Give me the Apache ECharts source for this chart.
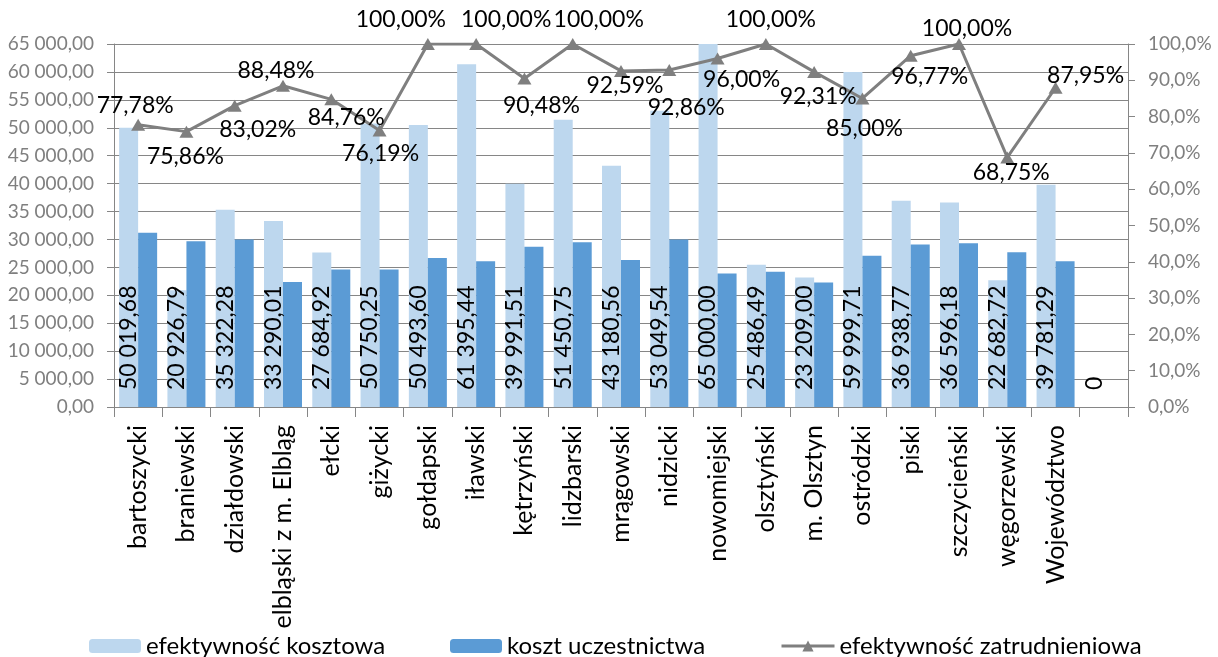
<!DOCTYPE html>
<html>
<head>
<meta charset="utf-8">
<script src="https://cdn.jsdelivr.net/npm/echarts@6/dist/echarts.min.js"></script>
<style>
html, body { margin: 0; padding: 0; background: #fff; }
#chart { width: 1218px; height: 657px; }
</style>
</head>
<body>
<div id="chart"></div>
<script>
// powiaty
var categories = ['bartoszycki', 'braniewski', 'działdowski', 'elbląski z m. Elbląg', 'ełcki', 'giżycki',
	'gołdapski', 'iławski', 'kętrzyński', 'lidzbarski', 'mrągowski', 'nidzicki', 'nowomiejski',
	'olsztyński', 'm. Olsztyn', 'ostródzki', 'piski', 'szczycieński', 'węgorzewski', 'Województwo', ''];

var efektywnoscKosztowa = [50019.68, 20926.79, 35322.28, 33290.01, 27684.92, 50750.25, 50493.60, 61395.44,
	39991.51, 51450.75, 43180.56, 53049.54, 65000.00, 25486.49, 23209.00, 59999.71, 36938.77, 36596.18,
	22682.72, 39781.29, 0];

var kosztUczestnictwa = [31200, 29700, 30000, 22400, 24600, 24600, 26700, 26100, 28700, 29500, 26300, 30000,
	23900, 24200, 22300, 27100, 29100, 29300, 27700, 26100, null];

var efektywnoscZatrudnieniowa = [77.78, 75.86, 83.02, 88.48, 84.76, 76.19, 100, 100, 90.48, 100, 92.59, 92.86,
	96.00, 100, 92.31, 85.00, 96.77, 100, 68.75, 87.95, null];

var leftTicks = {min: 0, max: 65000, interval: 5000};
var rightTicks = {min: 0, max: 100, interval: 10};

// przesunięcia etykiet linii względem punktu (dx, dy)
var lineLabelOffsets = [[-3, -19], [-1, 25], [23, 24], [-7, -15], [15, 18], [1, 23], [-27, -24], [30, -24],
	[17, 27], [26, -24], [4, 15], [17, 38], [24, 21], [5, -24], [4, 25], [2, 30], [19, 21], [8, -15],
	[4, 15], [30, -12], [0, 0]];

var FONT = 'Lato';

function plNumber(v, dec){
	var s = v.toFixed(dec).split('.');
	var intPart = s[0].replace(/\B(?=(\d{3})+(?!\d))/g, ' ');
	return dec > 0 ? intPart + ',' + s[1] : intPart;
}

function renderChart(){
	var myChart = echarts.init(document.getElementById('chart'), null, {renderer: 'canvas'});

	var lineData = efektywnoscZatrudnieniowa.map(function(v, i){
		return {
			value: v,
			label: {offset: lineLabelOffsets[i]}
		};
	});

	var legendText = {fontFamily: FONT, fontSize: 24, color: '#000'};

	var option = {
		animation: false,
		textStyle: {fontFamily: FONT},
		grid: {left: 114, right: 90, top: 44, bottom: 250, containLabel: false},
		legend: [
			{left: 84, top: 629, itemWidth: 52, itemHeight: 14, data: ['efektywność kosztowa'], textStyle: legendText},
			{left: 445, top: 629, itemWidth: 52, itemHeight: 14, data: ['koszt uczestnictwa'], textStyle: legendText},
			{left: 775, top: 629, itemWidth: 53, itemHeight: 14, data: ['efektywność zatrudnieniowa'], textStyle: legendText,
				lineStyle: {width: 3}}
		],
		xAxis: [{
			type: 'category',
			data: categories,
			axisLine: {lineStyle: {color: '#868686', width: 1}},
			axisTick: {show: true, interval: 0, length: 10, lineStyle: {color: '#868686'}},
			axisLabel: {interval: 0, rotate: 90, margin: 18, fontFamily: FONT, fontSize: 25, color: '#000'},
			splitLine: {show: false}
		}],
		yAxis: [
			{
				type: 'value',
				min: leftTicks.min, max: leftTicks.max, interval: leftTicks.interval,
				axisLine: {show: true, lineStyle: {color: '#868686'}},
				axisTick: {show: true, length: 7, lineStyle: {color: '#868686'}},
				axisLabel: {margin: 20, fontFamily: FONT, fontSize: 19, color: '#7f7f7f',
					formatter: function(v){ return plNumber(v, 2); }},
				splitLine: {show: true, lineStyle: {color: '#868686', width: 1}}
			},
			{
				type: 'value',
				min: rightTicks.min, max: rightTicks.max, interval: rightTicks.interval,
				axisLine: {show: true, lineStyle: {color: '#868686'}},
				axisTick: {show: true, length: 7, lineStyle: {color: '#868686'}},
				axisLabel: {margin: 20, fontFamily: FONT, fontSize: 19, color: '#7f7f7f',
					formatter: function(v){ return v.toFixed(1).replace('.', ',') + '%'; }},
				splitLine: {show: false}
			}
		],
		series: [
			{
				name: 'efektywność kosztowa',
				type: 'bar',
				barWidth: 19,
				barGap: '0%',
				itemStyle: {color: '#bdd7ee'},
				label: {
					show: true,
					position: 'insideBottom',
					rotate: 90,
					align: 'left',
					verticalAlign: 'middle',
					distance: 17,
					fontFamily: FONT,
					fontSize: 23,
					color: '#000',
					formatter: function(p){ return p.value === 0 ? '0' : plNumber(p.value, 2); }
				},
				data: efektywnoscKosztowa
			},
			{
				name: 'koszt uczestnictwa',
				type: 'bar',
				barWidth: 19,
				barGap: '0%',
				itemStyle: {color: '#5b9bd5'},
				data: kosztUczestnictwa
			},
			{
				name: 'efektywność zatrudnieniowa',
				type: 'line',
				yAxisIndex: 1,
				symbol: 'triangle',
				symbolSize: [14, 12],
				lineStyle: {color: '#7f7f7f', width: 3},
				itemStyle: {color: '#7f7f7f'},
				label: {
					show: true,
					position: 'inside',
					fontFamily: FONT,
					fontSize: 23,
					color: '#000',
					formatter: function(p){ return p.value == null ? '' : p.value.toFixed(2).replace('.', ',') + '%'; }
				},
				data: lineData
			}
		]
	};
	myChart.setOption(option);
}

renderChart();
</script>
</body>
</html>
